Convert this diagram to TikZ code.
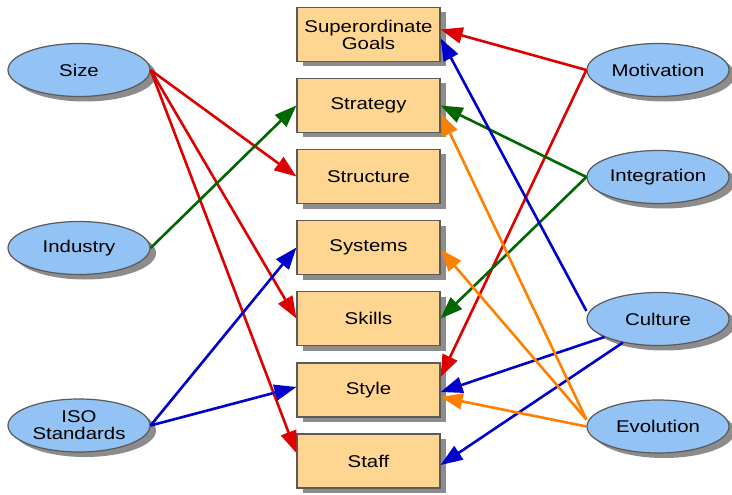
\documentclass[tikz,border=0pt]{standalone}
\usepackage{fontspec}
\setmainfont{Liberation Sans}[FakeStretch=1.2]
\usetikzlibrary{arrows.meta,shadows,shapes.geometric}
\definecolor{boxfill}{RGB}{255,214,145}
\definecolor{ovalfill}{RGB}{147,194,245}
\definecolor{linegray}{RGB}{90,90,90}
\definecolor{redline}{RGB}{222,0,0}
\definecolor{blueline}{RGB}{0,0,204}
\definecolor{greenline}{RGB}{0,102,0}
\definecolor{orangeline}{RGB}{255,128,0}
\begin{document}
\begin{tikzpicture}[x=1pt,y=-1pt]
	\tikzstyle{box}=[draw=linegray,fill=boxfill,line width=1.2pt,minimum width=143pt,minimum height=54pt,inner sep=0pt,align=center,font=\fontsize{17}{17}\selectfont,drop shadow={shadow xshift=6pt,shadow yshift=-5pt,fill=black!45,opacity=1}]
	\tikzstyle{oval}=[ellipse,draw=linegray,fill=ovalfill,line width=1.2pt,minimum width=142pt,minimum height=53pt,inner sep=0pt,align=center,font=\fontsize{17}{17}\selectfont,drop shadow={shadow xshift=6pt,shadow yshift=-5pt,fill=black!45,opacity=1}]
	\tikzstyle{arrow1}=[-{Triangle[length=22pt,width=16pt]},draw,line width=2.6pt]
	\useasboundingbox (0,0) rectangle (732,495);
		\node [style=oval] (0) at (79, 70) {Size};
		\node [style=oval] (1) at (79, 248) {Industry};
		\node [style=oval] (2) at (79, 425.5) {ISO\\Standards};
		\node [style=box] (3) at (368.5, 34.5) {Superordinate\\Goals};
		\node [style=box] (4) at (368.5, 105.5) {Strategy};
		\node [style=box] (5) at (368.5, 176.5) {Structure};
		\node [style=box] (6) at (368.5, 247.5) {Systems};
		\node [style=box] (7) at (368.5, 318.5) {Skills};
		\node [style=box] (8) at (368.5, 390) {Style};
		\node [style=box] (9) at (368.5, 461) {Staff};
		\node [style=oval] (10) at (658, 70) {Motivation};
		\node [style=oval] (11) at (658, 177) {Integration};
		\node [style=oval] (12) at (658, 319) {Culture};
		\node [style=oval] (13) at (658, 426.5) {Evolution};

		\draw [style=arrow1, redline] (0.east) to (5.west);
		\draw [style=arrow1, redline] (0.east) to (7.west);
		\draw [style=arrow1, redline] (0.east) to ([yshift=8pt]9.west);
		\draw [style=arrow1, greenline] (1.east) to (4.west);
		\draw [style=arrow1, blueline] (2.east) to (6.west);
		\draw [style=arrow1, blueline] (2.east) to ([yshift=3pt]8.west);
		\draw [style=arrow1, redline] (10.west) to ([yshift=5pt]3.east);
		\draw [style=arrow1, redline] (10.west) to ([yshift=13pt]8.east);
		\draw [style=arrow1, greenline] (11.west) to (4.east);
		\draw [style=arrow1, greenline] (11.west) to (7.east);
		\draw [style=arrow1, blueline] ([yshift=8pt]12.west) to ([yshift=-4pt]3.east);
		\draw [style=arrow1, blueline] (12) to ([yshift=-2pt]8.east);
		\draw [style=arrow1, blueline] (12) to ([yshift=-4pt]9.east);
		\draw [style=arrow1, orangeline] ([yshift=7pt]13.west) to ([yshift=-8pt]4.east);
		\draw [style=arrow1, orangeline] ([yshift=7pt]13.west) to ([yshift=-2pt]6.east);
		\draw [style=arrow1, orangeline] (13.west) to ([yshift=-7pt]8.east);

\end{tikzpicture}
\end{document}
